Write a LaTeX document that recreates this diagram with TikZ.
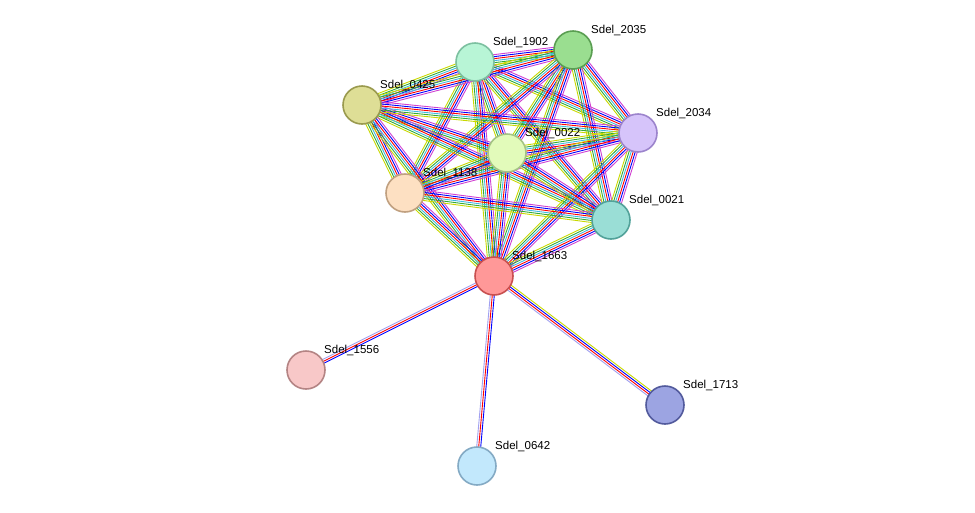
\documentclass[tikz,border=0pt]{standalone}
\usepackage{fontspec}
\setmainfont{Liberation Sans}
\usetikzlibrary{calc}
\definecolor{cyg}{HTML}{C8D800}
\definecolor{cgr}{HTML}{33AA33}
\definecolor{ccy}{HTML}{40B8E0}
\definecolor{cma}{HTML}{D040D0}
\definecolor{cla}{HTML}{A0A0F0}
\tikzset{
  prot/.style={circle,minimum size=38pt,inner sep=0pt,line width=1.6pt},
  lab/.style={anchor=south west,inner sep=0pt,font=\fontsize{11.5}{12}\selectfont},
  e/.style={line width=0.9pt}
}
\newcommand{\medge}[4]{% a b n colors
  \foreach \c [count=\i] in {#4}{
    \pgfmathsetmacro{\off}{(\i-(#3+1)/2)*2.0}
    \draw[e,\c] ($(#1)!\off pt!90:(#2)$) -- ($(#2)!\off pt!-90:(#1)$);
  }}
\begin{document}
\begin{tikzpicture}[x=1pt,y=-1pt]
\useasboundingbox (0,0) rectangle (975,512);
\coordinate (c1902) at (475,62);
\coordinate (c2035) at (573,50);
\coordinate (c0425) at (362,105);
\coordinate (c2034) at (638,133);
\coordinate (c0022) at (507,153);
\coordinate (c1138) at (405,193);
\coordinate (c0021) at (611,220);
\coordinate (c1663) at (494,276);
\coordinate (c1556) at (306,370);
\coordinate (c1713) at (665,405);
\coordinate (c0642) at (477,466);
\foreach \a/\b in {1902/2035,1902/0425,1902/2034,1902/0022,1902/1138,1902/0021,1902/1663,
  2035/0425,2035/2034,2035/0022,2035/0021,2035/1663,2035/1138,
  0425/0022,0425/1138,0425/0021,0425/1663,0425/2034,
  2034/0022,2034/1138,2034/0021,2034/1663,
  0022/1138,0022/0021,0022/1663,
  1138/0021,1138/1663,0021/1663}{
  \medge{c\a}{c\b}{6}{cyg,cgr,ccy,red,blue,cma}
}
\medge{c1663}{c1556}{3}{cla,red,blue}
\medge{c1663}{c1713}{4}{cla,red,blue,cyg}
\medge{c1663}{c0642}{3}{cla,red,blue}
\foreach \n/\f/\d in {1902/B8F5D6/7CC0A0,2035/9ADE90/5A9E52,0425/DEDE96/9A9A4E,2034/D6C4FA/9C84CC,
  0022/E2FBBA/A4C484,1138/FDE0C2/C0A080,0021/9ADED6/52A29A,1663/FF9898/C85050,
  1556/F8C8C8/B48484,1713/9CA4E2/525A9C,0642/C2E8FC/84AAC4}{
  \definecolor{f\n}{HTML}{\f}\definecolor{d\n}{HTML}{\d}
  \node[prot,fill=f\n,draw=d\n] (n\n) at (c\n) {};
  \node[lab] (l\n) at ($(c\n)+(18,-14)$) {Sdel\_\n};
}
\end{tikzpicture}
\end{document}
